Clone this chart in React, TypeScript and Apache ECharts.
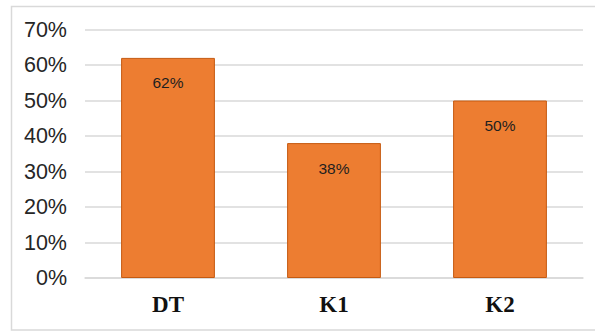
import React, { useEffect, useRef } from "react";
import * as echarts from "echarts";

const categories = ["DT", "K1", "K2"];
const values = [62, 38, 50];
const yTicks = { min: 0, max: 70, interval: 10 };

export default function App() {
  const ref = useRef<HTMLDivElement>(null);

  useEffect(() => {
    if (!ref.current) return;
    const chart = echarts.init(ref.current, null, { renderer: "svg" });
    chart.setOption({
      animation: false,
      backgroundColor: "#ffffff",
      graphic: [
        {
          type: "rect",
          shape: { x: 11.5, y: 6.5, width: 600, height: 323.5 },
          style: { fill: "none", stroke: "#D9D9D9", lineWidth: 1.5 },
          silent: true,
        },
      ],
      grid: { left: 85, right: 12, top: 29.5, bottom: 53, containLabel: false },
      xAxis: {
        type: "category",
        data: categories,
        axisLine: { show: true, lineStyle: { color: "#D9D9D9", width: 1.5 } },
        axisTick: { show: false },
        axisLabel: {
          margin: 15,
          fontFamily: "Liberation Serif",
          fontWeight: "bold",
          fontSize: 23,
          color: "#111111",
        },
      },
      yAxis: {
        type: "value",
        min: yTicks.min,
        max: yTicks.max,
        interval: yTicks.interval,
        axisLine: { show: false },
        axisTick: { show: false },
        splitLine: { lineStyle: { color: "#D9D9D9", width: 1.5 } },
        axisLabel: {
          formatter: "{value}%",
          margin: 18,
          fontFamily: "Liberation Sans",
          fontSize: 21.5,
          color: "#262626",
        },
      },
      series: [
        {
          type: "bar",
          data: values,
          barWidth: "56.5%",
          itemStyle: {
            color: "#ED7D31",
            borderColor: "#C55A11",
            borderWidth: 1,
          },
          label: {
            show: true,
            position: "insideTop",
            distance: 17,
            formatter: "{c}%",
            fontFamily: "Liberation Sans",
            fontSize: 15.5,
            color: "#1f1f1f",
          },
        },
      ],
    });
    return () => chart.dispose();
  }, []);

  return (
    <div
      ref={ref}
      style={{ position: "absolute", left: 0, top: 0, width: 595, height: 331 }}
    />
  );
}
